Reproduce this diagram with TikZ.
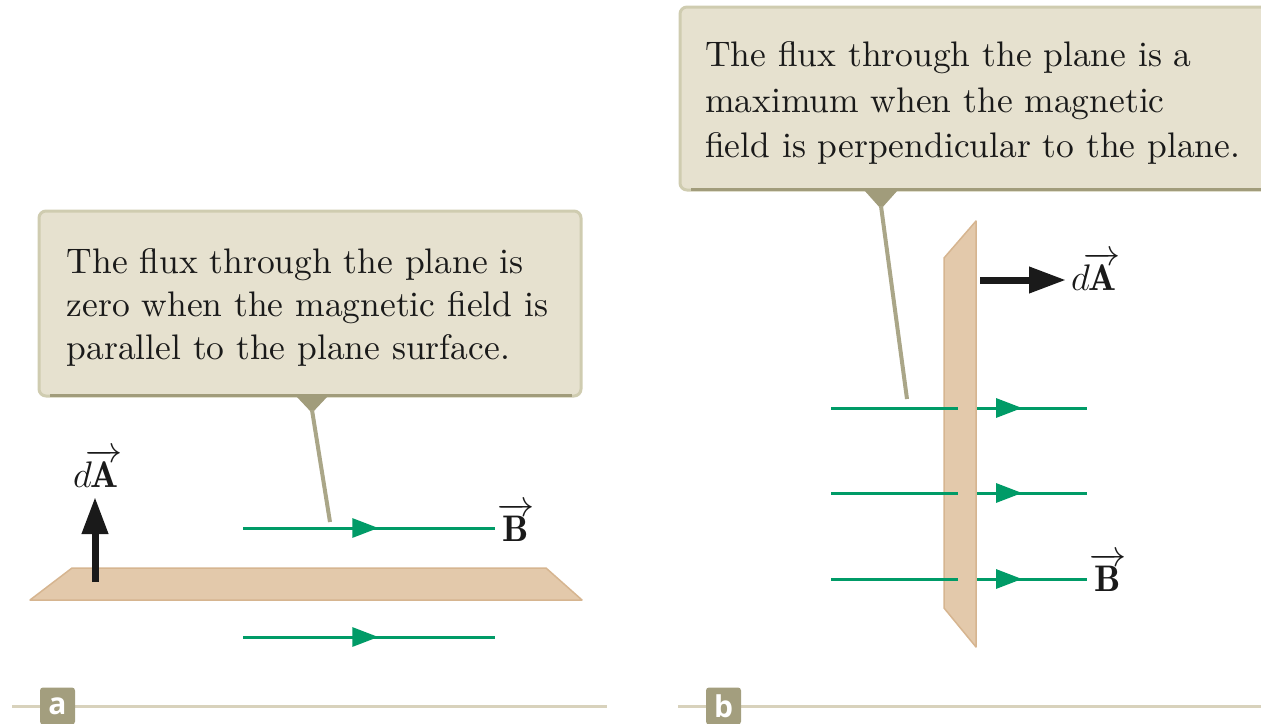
\documentclass[tikz,border=0pt]{standalone}
\usepackage{fix-cm}
\usepackage{fontspec}
\newfontfamily\labfont{Open Sans}
\newfontfamily\boxfont{lmroman10-regular.otf}
\usetikzlibrary{arrows.meta,decorations.markings}
\definecolor{boxfill}{HTML}{E6E1CF}
\definecolor{boxborder}{HTML}{CFCCB0}
\definecolor{boxdark}{HTML}{A19C7B}
\definecolor{planefill}{HTML}{E3C9AB}
\definecolor{planeedge}{HTML}{D6B590}
\definecolor{fieldgreen}{HTML}{009B67}
\definecolor{ink}{HTML}{1A1A1A}
\definecolor{rulecol}{HTML}{D8D2BC}
\definecolor{tagcol}{HTML}{A39E7E}
\tikzset{
  calloutbox/.style={draw=boxborder, line width=3pt, fill=boxfill, rounded corners=7pt},
  callouttext/.style={anchor=west, align=left, inner sep=0pt, text=ink,
    font=\boxfont\fontsize{35.5}{43}\selectfont},
  pointer/.style={fill=boxdark, draw=none},
  leader/.style={draw=boxdark!90, line width=4pt},
  plane/.style={fill=planefill, draw=planeedge, line width=1.5pt, line join=round},
  fieldline/.style={draw=fieldgreen, line width=3pt},
  midarrow/.style={postaction={decorate, decoration={markings,
     mark=at position #1 with {\arrow{Triangle[length=26pt,width=19pt]}}}}},
  vecarrow/.style={draw=ink, line width=7pt, -{Triangle[length=37pt,width=25pt]}},
  veclabel/.style={text=ink, inner sep=0pt, anchor=base, font=\fontsize{37}{37}\selectfont},
  rule/.style={draw=rulecol, line width=3pt},
  tag/.style={fill=tagcol, rounded corners=3pt, text=white, minimum width=35pt,
    minimum height=37pt, inner sep=0pt, font=\labfont\bfseries\fontsize{30}{30}\selectfont}
}
\begin{document}
\begin{tikzpicture}[x=1pt,y=-1pt]
\useasboundingbox (0,0) rectangle (1261,723);
\clip (0,0) rectangle (1261,723);

% ---------- panel a ----------
\path[calloutbox] (39,211) rectangle (581,396);
\node[callouttext, text width=500pt] (texta) at (66.5,307.5)
  {The flux through the plane is\\zero when the magnetic field is\\parallel to the plane surface.};
\draw[boxdark, line width=3pt] (50,395) -- (572,395);
\path[pointer] (296,396) -- (328,396) -- (312,413) -- cycle;
\coordinate (tipa) at (312,410);
\coordinate (enda) at (330,522);
\draw[leader] (tipa) -- (enda);

\path[plane] (72,568) -- (546,568) -- (582,600) -- (30,600) -- cycle;

\coordinate (la1s) at (243,528); \coordinate (la1e) at (495,528);
\coordinate (la2s) at (243,637); \coordinate (la2e) at (495,637);
\draw[fieldline, midarrow=0.537] (la1s) -- (la1e);
\draw[fieldline, midarrow=0.537] (la2s) -- (la2e);

\coordinate (dAa0) at (95,582); \coordinate (dAa1) at (95,497);
\draw[vecarrow] (dAa0) -- (dAa1);
\node[veclabel] (dAalab) at (98,487) {$d\!\overrightarrow{\mathbf{A}}$};
\node[veclabel] (Balab) at (516,541) {$\overrightarrow{\mathbf{B}}$};

\coordinate (rulea0) at (12,706); \coordinate (rulea1) at (607,706);
\draw[rule] (rulea0) -- (rulea1);
\node[tag] (taga) at (57.5,706) {a};

% ---------- panel b ----------
\path[calloutbox] (680,7) rectangle (1290,190);
\node[callouttext, text width=580pt, font=\boxfont\fontsize{35.5}{45.5}\selectfont] (textb) at (705,103)
  {The flux through the plane is a\\maximum when the magnetic\\field is perpendicular to the plane.};
\draw[boxdark, line width=3pt] (691,189) -- (1265,189);
\path[pointer] (864,190) -- (898,190) -- (881,209) -- cycle;
\coordinate (tipb) at (881,206);
\coordinate (endb) at (907,399);
\draw[leader] (tipb) -- (endb);

\path[plane] (944,258) -- (976,221) -- (976,647) -- (944,608) -- cycle;

\foreach \yy/\nm in {408/1,493/2,579/3}{
  \coordinate (lb\nm s) at (831,\yy); \coordinate (lb\nm m) at (958,\yy);
  \coordinate (lb\nm r) at (977,\yy); \coordinate (lb\nm e) at (1087,\yy);
  \draw[fieldline] (lb\nm s) -- (lb\nm m);
  \draw[fieldline, midarrow=0.41] (lb\nm r) -- (lb\nm e);
}

\coordinate (dAb0) at (980,280); \coordinate (dAb1) at (1066,280);
\draw[vecarrow] (dAb0) -- (dAb1);
\node[veclabel] (dAblab) at (1096,290) {$d\!\overrightarrow{\mathbf{A}}$};
\node[veclabel] (Bblab) at (1108,591) {$\overrightarrow{\mathbf{B}}$};

\coordinate (ruleb0) at (678,706); \coordinate (ruleb1) at (1261,706);
\draw[rule] (ruleb0) -- (ruleb1);
\node[tag] (tagb) at (723.5,706) {b};
\end{tikzpicture}
\end{document}
